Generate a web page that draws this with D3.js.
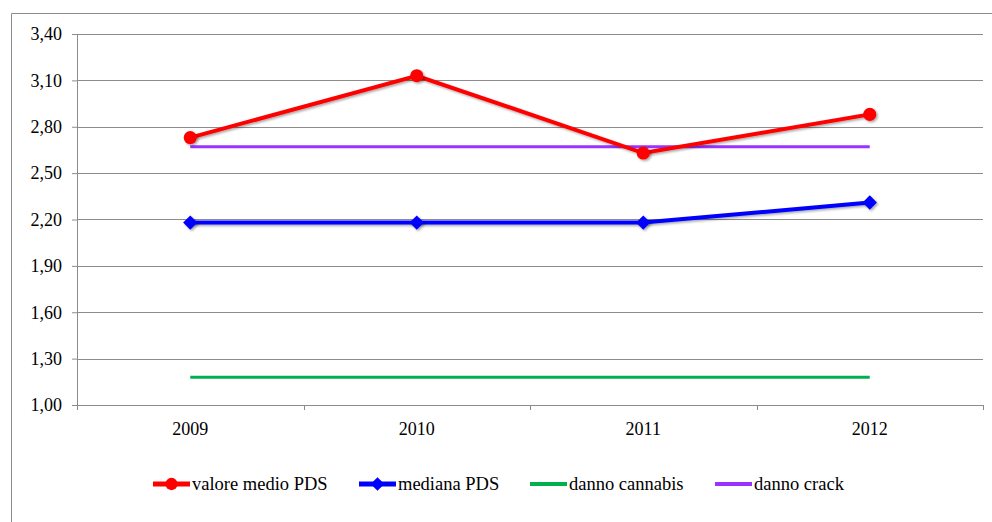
<!DOCTYPE html>
<html>
<head>
<meta charset="utf-8">
<script src="https://cdn.jsdelivr.net/npm/d3@7"></script>
<style>
  body { margin: 0; background: #fff; }
</style>
</head>
<body>
<div id="chart"></div>
<script>
// data
var years = ["2009", "2010", "2011", "2012"];
var valoreMedio = [2.73, 3.13, 2.63, 2.88];
var mediana = [2.18, 2.18, 2.18, 2.31];
var dannoCannabis = [1.18, 1.18, 1.18, 1.18];
var dannoCrack = [2.67, 2.67, 2.67, 2.67];
var yTicks = [1.00, 1.30, 1.60, 1.90, 2.20, 2.50, 2.80, 3.10, 3.40];

var FONT = "Liberation Serif";

var W = 992, H = 522;
var margin = {top: 34, right: 9, bottom: 117, left: 77};
var width = W - margin.left - margin.right;
var height = H - margin.top - margin.bottom;

var svg = d3.select("#chart").append("svg")
    .attr("width", W)
    .attr("height", H)
    .attr("font-family", FONT);

var defs = svg.append("defs");
var filt = defs.append("filter").attr("id", "shadow")
    .attr("x", "-50%").attr("y", "-50%").attr("width", "200%").attr("height", "200%");
filt.append("feDropShadow").attr("dx", 1.5).attr("dy", 1.5).attr("stdDeviation", 1.2)
    .attr("flood-color", "#000").attr("flood-opacity", 0.35);

// outer frame (right / bottom fall off the picture)
svg.append("path")
    .attr("d", "M11.5," + H + " L11.5,13.5 L" + W + ",13.5")
    .attr("fill", "none").attr("stroke", "#8c8c8c").attr("stroke-width", 1);

var g = svg.append("g")
    .attr("transform", "translate(" + margin.left + "," + margin.top + ")");

var x = d3.scaleBand().domain(years).range([0, width]);
var y = d3.scaleLinear().domain([1.0, 3.4]).range([height, 0]);

var fmt = function(d) { return d3.format(".2f")(d).replace(".", ","); };

// gridlines
g.selectAll(".grid").data(yTicks).enter().append("line")
    .attr("x1", 0).attr("x2", width)
    .attr("y1", function(d) { return Math.round(y(d)) + 0.5; })
    .attr("y2", function(d) { return Math.round(y(d)) + 0.5; })
    .attr("stroke", "#8c8c8c").attr("stroke-width", 1);

// y axis
var yAxis = g.append("g")
    .call(d3.axisLeft(y).tickValues(yTicks).tickFormat(fmt).tickSize(5).tickSizeOuter(0))
    .attr("font-family", FONT)
    .attr("font-size", 18);
yAxis.select(".domain").attr("stroke", "#8c8c8c");
yAxis.selectAll(".tick line").attr("stroke", "#8c8c8c");
yAxis.selectAll("text").attr("x", -15).attr("fill", "#000");

// x axis with ticks at category boundaries
var xAxis = g.append("g").attr("transform", "translate(0," + height + ")");
xAxis.append("line").attr("x1", 0).attr("x2", width).attr("y1", 0.5).attr("y2", 0.5)
    .attr("stroke", "#8c8c8c");
var bounds = years.map(function(d) { return x(d); }).concat([width]);
xAxis.selectAll(".bt").data(bounds).enter().append("line")
    .attr("x1", function(d) { return Math.round(d) + 0.5; })
    .attr("x2", function(d) { return Math.round(d) + 0.5; })
    .attr("y1", 0).attr("y2", 5)
    .attr("stroke", "#8c8c8c");
xAxis.selectAll(".lbl").data(years).enter().append("text")
    .attr("x", function(d) { return x(d) + x.bandwidth() / 2; })
    .attr("y", 30)
    .attr("text-anchor", "middle")
    .attr("font-family", FONT)
    .attr("font-size", 18)
    .text(function(d) { return d; });

var cx = function(d, i) { return x(years[i]) + x.bandwidth() / 2; };
var line = d3.line().x(cx).y(function(d) { return y(d); });

var series = [
  {name: "valore medio PDS", values: valoreMedio, color: "#ff0000", w: 4, marker: "circle"},
  {name: "mediana PDS", values: mediana, color: "#0000ff", w: 4, marker: "diamond"},
  {name: "danno cannabis", values: dannoCannabis, color: "#00b050", w: 3, marker: null},
  {name: "danno crack", values: dannoCrack, color: "#9933ff", w: 3, marker: null}
];

// draw flat lines first, then the marker series on top
var order = [2, 3, 1, 0];
order.forEach(function(k) {
  var s = series[k];
  var sg = g.append("g");
  sg.append("path")
      .datum(s.values)
      .attr("d", line)
      .attr("fill", "none")
      .attr("stroke", s.color)
      .attr("stroke-width", s.w)
      .attr("filter", s.marker ? "url(#shadow)" : null);
  if (s.marker) {
    var sym = s.marker === "circle" ? d3.symbolCircle : d3.symbolDiamond2;
    var size = s.marker === "circle" ? 135 : 130;
    sg.selectAll(".m").data(s.values).enter().append("path")
        .attr("d", d3.symbol().type(sym).size(size))
        .attr("transform", function(d, i) { return "translate(" + cx(d, i) + "," + y(d) + ")"; })
        .attr("fill", s.color)
        .attr("filter", "url(#shadow)");
  }
});

// legend
var legendX = [153, 359, 530, 715];
var legend = svg.append("g").attr("transform", "translate(0,484)");
series.forEach(function(s, i) {
  var lg = legend.append("g").attr("transform", "translate(" + legendX[i] + ",0)");
  lg.append("line").attr("x1", 0).attr("x2", 37).attr("y1", 0).attr("y2", 0)
      .attr("stroke", s.color).attr("stroke-width", s.marker ? 5 : 4);
  if (s.marker) {
    var sym = s.marker === "circle" ? d3.symbolCircle : d3.symbolDiamond2;
    lg.append("path")
        .attr("d", d3.symbol().type(sym).size(120))
        .attr("transform", "translate(18.5,0)")
        .attr("fill", s.color);
  }
  lg.append("text")
      .attr("x", 39).attr("y", 6)
      .attr("font-family", FONT)
      .attr("font-size", 18.5)
      .text(s.name);
});
</script>
</body>
</html>
